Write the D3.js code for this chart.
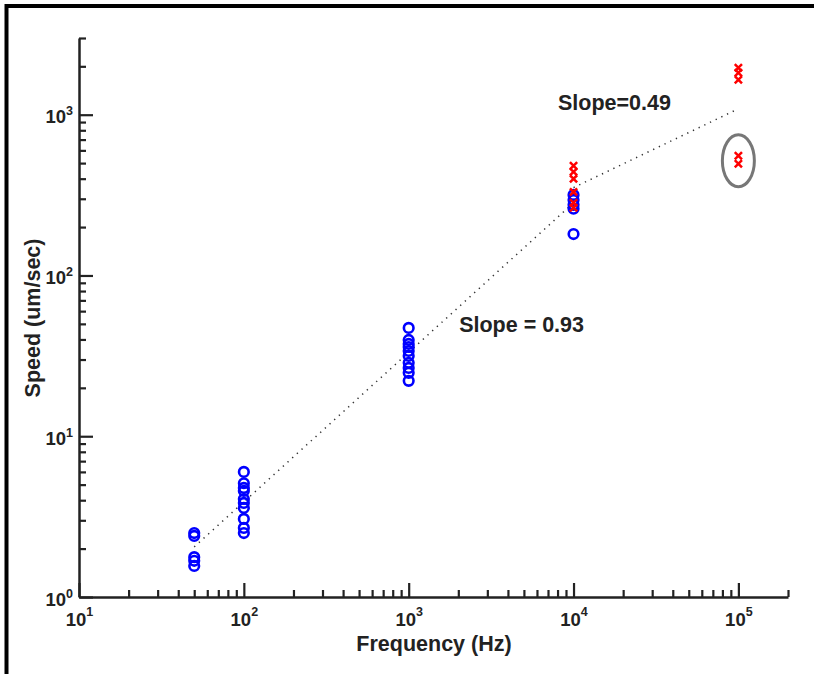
<html>
<head>
<meta charset="utf-8">
<script src="https://cdn.jsdelivr.net/npm/d3@7"></script>
<style>
  body { margin: 0; background: #fff; }
  text { font-family: "Liberation Sans", Arial, sans-serif; font-weight: bold; fill: #222; }
</style>
</head>
<body>
<div id="chart"></div>
<script>
// values
const xMajor = [10, 100, 1000, 10000, 100000];
const xExp = ["1", "2", "3", "4", "5"];
const xMinor = [20, 30, 40, 50, 60, 70, 80, 90, 200, 300, 400, 500, 600, 700, 800, 900,
  2000, 3000, 4000, 5000, 6000, 7000, 8000, 9000, 20000, 30000, 40000, 50000, 60000, 70000, 80000, 90000, 200000];
const yMajor = [1, 10, 100, 1000];
const yExp = ["0", "1", "2", "3"];
const yMinor = [2, 3, 4, 5, 6, 7, 8, 9, 20, 30, 40, 50, 60, 70, 80, 90,
  200, 300, 400, 500, 600, 700, 800, 900, 2000, 3000];

// blue circles
const speed50 = [2.5, 2.4, 1.77, 1.68, 1.56];
const speed100 = [6.0, 5.1, 4.77, 4.57, 4.07, 3.85, 3.58, 3.06, 2.69, 2.5];
const speed1k = [47.2, 39.7, 37.5, 35.9, 33.9, 31.6, 28.6, 26.6, 24.8, 22.1];
const speed10k = [317, 295, 275, 260, 181];
// red crosses
const cross10k = [481, 441, 399, 331, 283, 264];
const cross100k = [1959, 1823, 1648, 555, 495];
const outlier = [100000, 517];

// dotted fits
const fitLow = [[50, 2.05], [10000, 283]];
const fitHigh = [[10000, 352], [100000, 1088]];
const slopeLabels = ["Slope=0.49", "Slope = 0.93"];
const slopePos = [[8050, 1069], [2023, 44.5]];

const W = 814, H = 674;
const svg = d3.select("#chart").append("svg").attr("width", W).attr("height", H);

const x = d3.scaleLog().domain([10, 200000]).range([79, 788]);
const y = d3.scaleLog().domain([1, 3000]).range([597, 38]);

// outer frame (left + top)
svg.append("path").attr("d", "M6.5,674V6H814").attr("fill", "none")
  .attr("stroke", "#000").attr("stroke-width", 4);

function supLabels(g, exps, raise, supSize) {
  g.selectAll(".tick text").each(function (d, i) {
    const t = d3.select(this).text("");
    t.append("tspan").text("10");
    t.append("tspan").attr("dy", -raise).attr("font-size", supSize).text(exps[i]);
  });
}

// x axis
const gx = svg.append("g").attr("transform", "translate(0,597)")
  .attr("color", "#222")
  .call(d3.axisBottom(x).tickValues(xMajor).tickSizeInner(-14).tickSizeOuter(0).tickPadding(0));
gx.selectAll(".tick text").attr("y", 29).attr("dy", 0)
  .attr("font-size", 18.5).attr("font-family", null);
supLabels(gx, xExp, 10, 12.5);
svg.append("g").attr("transform", "translate(0,597)").attr("color", "#222")
  .call(d3.axisBottom(x).tickValues(xMinor).tickSizeInner(-7).tickSizeOuter(0).tickFormat(""))
  .select(".domain").remove();

// y axis
const gy = svg.append("g").attr("transform", "translate(79,0)")
  .attr("color", "#222")
  .call(d3.axisLeft(y).tickValues(yMajor).tickSizeInner(-14).tickSizeOuter(0).tickPadding(6));
gy.selectAll(".tick text").attr("dy", 8).attr("x", -6)
  .attr("font-size", 18.5).attr("font-family", null);
supLabels(gy, yExp, 8, 12.5);
svg.append("g").attr("transform", "translate(79,0)").attr("color", "#222")
  .call(d3.axisLeft(y).tickValues(yMinor).tickSizeInner(-7).tickSizeOuter(0).tickFormat(""))
  .select(".domain").remove();

svg.selectAll(".domain").attr("stroke-width", 2.5);
svg.selectAll(".tick line").attr("stroke-width", 2.2);
svg.selectAll(".tick text").attr("fill", "#222");

// axis titles
svg.append("text").attr("x", 434).attr("y", 651).attr("text-anchor", "middle")
  .attr("font-size", 21.5).text("Frequency (Hz)");
svg.append("text").attr("transform", "translate(40,318) rotate(-90)")
  .attr("text-anchor", "middle").attr("font-size", 21.5).text("Speed (um/sec)");

// fit lines
const line = d3.line().x(d => x(d[0])).y(d => y(d[1]));
[fitLow, fitHigh].forEach(f => {
  svg.append("path").attr("d", line(f)).attr("fill", "none")
    .attr("stroke", "#333").attr("stroke-width", 1.5).attr("stroke-dasharray", "1.3,5");
});

// circles
const circles = [[50, speed50], [100, speed100], [1000, speed1k], [10000, speed10k]]
  .flatMap(([f, vs]) => vs.map(v => [f, v]));
svg.append("g").selectAll("circle").data(circles).join("circle")
  .attr("cx", d => x(d[0])).attr("cy", d => y(d[1])).attr("r", 4.8)
  .attr("fill", "none").attr("stroke", "#0000ff").attr("stroke-width", 2.6);

// crosses
const crosses = [[10000, cross10k], [100000, cross100k]]
  .flatMap(([f, vs]) => vs.map(v => [f, v]));
const s = 3.6;
svg.append("g").selectAll("path").data(crosses).join("path")
  .attr("d", d => {
    const cx = x(d[0]), cy = y(d[1]);
    return `M${cx - s},${cy - s}L${cx + s},${cy + s}M${cx - s},${cy + s}L${cx + s},${cy - s}`;
  })
  .attr("stroke", "#ff0000").attr("stroke-width", 2.5).attr("fill", "none");

// outlier ellipse
svg.append("ellipse").attr("cx", x(outlier[0])).attr("cy", y(outlier[1]))
  .attr("rx", 16).attr("ry", 26).attr("fill", "none")
  .attr("stroke", "#777").attr("stroke-width", 3);

// slope annotations
svg.append("g").selectAll("text").data(slopeLabels).join("text")
  .attr("x", (d, i) => x(slopePos[i][0])).attr("y", (d, i) => y(slopePos[i][1]))
  .attr("font-size", 21.5).text(d => d);
</script>
</body>
</html>
